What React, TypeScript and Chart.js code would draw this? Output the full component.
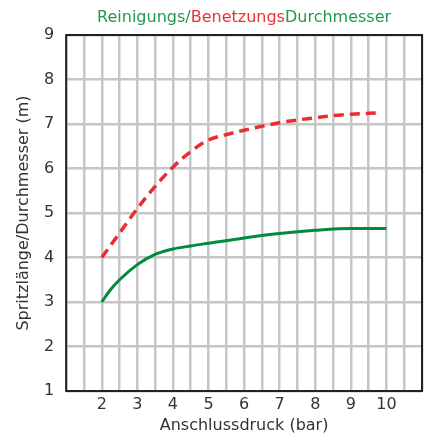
import React, { useEffect, useRef } from "react";
import { Chart, registerables } from "chart.js";

Chart.register(...registerables);

const titleParts = ["Reinigungs/", "Benetzungs", "Durchmesser"];
const xAxisTitle = "Anschlussdruck (bar)";
const yAxisTitle = "Spritzlänge/Durchmesser (m)";

const cleaningPressure = [2, 2.25, 2.5, 3, 3.5, 4, 4.5, 5, 6, 7, 8, 9, 10];
const cleaningDiameter = [3.0, 3.28, 3.5, 3.84, 4.07, 4.19, 4.26, 4.32, 4.44, 4.54, 4.61, 4.65, 4.65];

const wettingPressure = [2, 2.5, 3, 3.5, 4, 4.5, 5, 5.5, 6, 6.5, 7, 7.5, 8, 8.5, 9, 9.5, 9.8];
const wettingDiameter = [4.0, 4.55, 5.1, 5.6, 6.03, 6.38, 6.64, 6.76, 6.86, 6.95, 7.03, 7.09, 7.14, 7.19, 7.22, 7.24, 7.25];

const xLabels = [2, 3, 4, 5, 6, 7, 8, 9, 10];

const GREEN = "#008a3e";
const RED = "#ee2a32";
const TITLE_GREEN = "#1f9a50";
const TITLE_RED = "#ee3138";
const FONT = "'DejaVu Sans', Verdana, sans-serif";

const titlePlugin = {
  id: "multiColorTitle",
  afterDraw(chart: any) {
    const { ctx, chartArea } = chart;
    ctx.save();
    ctx.font = `16px ${FONT}`;
    ctx.textBaseline = "middle";
    ctx.textAlign = "left";
    const colors = [TITLE_GREEN, TITLE_RED, TITLE_GREEN];
    const widths = titleParts.map((t) => ctx.measureText(t).width);
    const total = widths.reduce((a, b) => a + b, 0);
    let x = (chartArea.left + chartArea.right) / 2 - total / 2;
    titleParts.forEach((t, i) => {
      ctx.fillStyle = colors[i];
      ctx.fillText(t, x, 18);
      x += widths[i];
    });
    ctx.restore();
  },
};

const framePlugin = {
  id: "frame",
  afterDatasetsDraw(chart: any) {
    const { ctx, chartArea } = chart;
    ctx.save();
    ctx.strokeStyle = "#222222";
    ctx.lineWidth = 2;
    ctx.strokeRect(chartArea.left, chartArea.top, chartArea.right - chartArea.left, chartArea.bottom - chartArea.top);
    ctx.restore();
  },
};

export default function App() {
  const ref = useRef<HTMLCanvasElement | null>(null);

  useEffect(() => {
    if (!ref.current) return;
    const chart = new Chart(ref.current, {
      type: "line",
      data: {
        datasets: [
          {
            label: "Reinigungsdurchmesser",
            data: cleaningPressure.map((x, i) => ({ x, y: cleaningDiameter[i] })),
            borderColor: GREEN,
            borderWidth: 3,
            pointRadius: 0,
            cubicInterpolationMode: "monotone",
            fill: false,
          },
          {
            label: "Benetzungsdurchmesser",
            data: wettingPressure.map((x, i) => ({ x, y: wettingDiameter[i] })),
            borderColor: RED,
            borderWidth: 3.5,
            borderDash: [10, 6],
            pointRadius: 0,
            cubicInterpolationMode: "monotone",
            fill: false,
          },
        ],
      },
      options: {
        animation: false,
        responsive: true,
        maintainAspectRatio: false,
        layout: { padding: { top: 35, right: 6, left: 16, bottom: 0 } },
        plugins: {
          legend: { display: false },
          tooltip: { enabled: false },
          title: { display: false },
        },
        scales: {
          x: {
            type: "linear",
            min: 1,
            max: 11,
            border: { display: false },
            grid: { color: "#c6c6c6", lineWidth: 2.5, drawTicks: false },
            ticks: {
              stepSize: 0.5,
              autoSkip: false,
              maxRotation: 0,
              padding: 6,
              color: "#333333",
              font: { family: FONT, size: 16, lineHeight: 1 },
              callback: (v: any) => (xLabels.includes(Number(v)) ? String(v) : ""),
            },
            title: {
              display: true,
              text: xAxisTitle,
              color: "#333333",
              font: { family: FONT, size: 16, lineHeight: 1 },
              padding: { top: -1, bottom: 0 },
            },
          },
          y: {
            type: "linear",
            min: 1,
            max: 9,
            border: { display: false },
            grid: { color: "#c6c6c6", lineWidth: 2.5, drawTicks: false },
            ticks: {
              stepSize: 1,
              padding: 12,
              color: "#333333",
              font: { family: FONT, size: 16, lineHeight: 1 },
            },
            title: {
              display: true,
              text: yAxisTitle,
              color: "#333333",
              font: { family: FONT, size: 16, lineHeight: 1 },
              padding: { top: 0, bottom: 0 },
            },
          },
        },
      },
      plugins: [titlePlugin, framePlugin],
    });
    return () => chart.destroy();
  }, []);

  return (
    <div style={{ position: "fixed", left: 0, top: 0, width: 428, height: 434, background: "#ffffff" }}>
      <canvas ref={ref} />
    </div>
  );
}
